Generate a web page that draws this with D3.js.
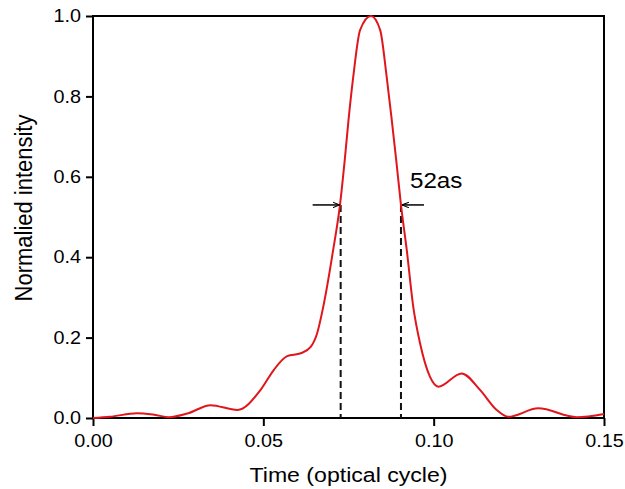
<!DOCTYPE html>
<html>
<head>
<meta charset="utf-8">
<script src="https://cdn.jsdelivr.net/npm/d3@7"></script>
<style>
  body { margin: 0; background: #fff; }
  text { font-family: "Liberation Sans", Arial, sans-serif; }
</style>
</head>
<body>
<div id="chart"></div>
<script>
// time (optical cycle) and normalised intensity
const times = [0.000, 0.005, 0.0129, 0.018, 0.0223, 0.028, 0.0345, 0.0424, 0.0492, 0.0531,
  0.057, 0.061, 0.0639, 0.0658, 0.0676, 0.0705, 0.0725, 0.0739, 0.0750, 0.0764,
  0.0784, 0.0816, 0.0843, 0.0862, 0.0877, 0.0890, 0.0904, 0.0921, 0.0940, 0.0960,
  0.0989, 0.1014, 0.1082, 0.1136, 0.1185, 0.1219, 0.1307, 0.1420, 0.1500];
const intensity = [0.000, 0.003, 0.012, 0.008, 0.002, 0.012, 0.032, 0.020, 0.070, 0.120,
  0.154, 0.161, 0.177, 0.211, 0.277, 0.418, 0.530, 0.642, 0.741, 0.849,
  0.965, 1.000, 0.965, 0.849, 0.741, 0.642, 0.530, 0.418, 0.277, 0.186,
  0.103, 0.078, 0.111, 0.070, 0.020, 0.003, 0.024, 0.002, 0.010];

const xTicks = [0.00, 0.05, 0.10, 0.15];
const yTicks = [0.0, 0.2, 0.4, 0.6, 0.8, 1.0];

// FWHM markers
const fwhmTimes = [0.0727, 0.0904];
const fwhmLevel = 0.53;
const fwhmLabel = "52as";

const data = times.map((t, i) => ({ t, v: intensity[i] }));

const width = 625, height = 489;
const margin = { top: 16, right: 21, bottom: 71, left: 93 };
const stretch = 1.1; // text in the picture is a bit wide

const x = d3.scaleLinear().domain([0, 0.15]).range([margin.left, width - margin.right]);
const y = d3.scaleLinear().domain([0, 1]).range([height - margin.bottom, margin.top]);

const svg = d3.select("#chart").append("svg")
  .attr("width", width)
  .attr("height", height);

svg.append("defs").append("marker")
  .attr("id", "arrow")
  .attr("viewBox", "0 0 10 10")
  .attr("refX", 10).attr("refY", 5)
  .attr("markerWidth", 7).attr("markerHeight", 7)
  .attr("markerUnits", "userSpaceOnUse")
  .attr("orient", "auto")
  .append("path")
  .attr("d", "M0,1 L10,5 L0,9")
  .attr("fill", "none")
  .attr("stroke", "#000")
  .attr("stroke-width", 1.5);

// bottom axis
const xAxis = svg.append("g")
  .attr("transform", `translate(0,${height - margin.bottom})`)
  .call(d3.axisBottom(x).tickValues(xTicks).tickFormat(d3.format(".2f")).tickSizeOuter(0).tickSize(8).tickPadding(8));

// left axis
const yAxis = svg.append("g")
  .attr("transform", `translate(${margin.left},0)`)
  .call(d3.axisLeft(y).tickValues(yTicks).tickFormat(d3.format(".1f")).tickSizeOuter(0).tickSize(7).tickPadding(4));

[xAxis, yAxis].forEach(g => {
  g.selectAll("line").attr("stroke", "#000").attr("stroke-width", 2);
  g.select(".domain").remove();
  g.selectAll("text").attr("font-size", "18px").attr("fill", "#000")
    .attr("font-family", "Liberation Sans, Arial, sans-serif")
    .attr("transform", `scale(${stretch},1)`);
});

// frame
svg.append("rect")
  .attr("x", margin.left)
  .attr("y", margin.top)
  .attr("width", width - margin.left - margin.right)
  .attr("height", height - margin.top - margin.bottom)
  .attr("fill", "none")
  .attr("stroke", "#000")
  .attr("stroke-width", 2);

// dashed FWHM lines
svg.selectAll(".fwhm")
  .data(fwhmTimes)
  .enter()
  .append("line")
  .attr("class", "fwhm")
  .attr("x1", d => x(d)).attr("x2", d => x(d))
  .attr("y1", y(fwhmLevel)).attr("y2", y(0))
  .attr("stroke", "#111")
  .attr("stroke-width", 2)
  .attr("stroke-dasharray", "7,4");

// curve
const line = d3.line()
  .x(d => x(d.t))
  .y(d => y(d.v))
  .curve(d3.curveMonotoneX);

svg.append("path")
  .datum(data)
  .attr("fill", "none")
  .attr("stroke", "#e0161c")
  .attr("stroke-width", 2)
  .attr("d", line);

// arrows
svg.append("line")
  .attr("x1", x(fwhmTimes[0]) - 28).attr("x2", x(fwhmTimes[0]) - 1)
  .attr("y1", y(fwhmLevel)).attr("y2", y(fwhmLevel))
  .attr("stroke", "#000").attr("stroke-width", 1.5)
  .attr("marker-end", "url(#arrow)");

svg.append("line")
  .attr("x1", x(fwhmTimes[1]) + 23).attr("x2", x(fwhmTimes[1]) + 1)
  .attr("y1", y(fwhmLevel)).attr("y2", y(fwhmLevel))
  .attr("stroke", "#000").attr("stroke-width", 1.5)
  .attr("marker-end", "url(#arrow)");

svg.append("text")
  .attr("transform", `translate(${x(fwhmTimes[1]) + 9},${y(fwhmLevel) - 17}) scale(${stretch},1)`)
  .attr("font-size", "22px")
  .attr("fill", "#000")
  .text(fwhmLabel);

// axis titles
svg.append("text")
  .attr("transform", `translate(${(margin.left + width - margin.right) / 2},482) scale(${stretch},1)`)
  .attr("text-anchor", "middle")
  .attr("font-size", "21px")
  .attr("fill", "#000")
  .text("Time (optical cycle)");

svg.append("text")
  .attr("transform", `translate(32,208) scale(${stretch},1) rotate(-90)`)
  .attr("text-anchor", "middle")
  .attr("font-size", "22px")
  .attr("fill", "#000")
  .text("Normalied intensity");
</script>
</body>
</html>
